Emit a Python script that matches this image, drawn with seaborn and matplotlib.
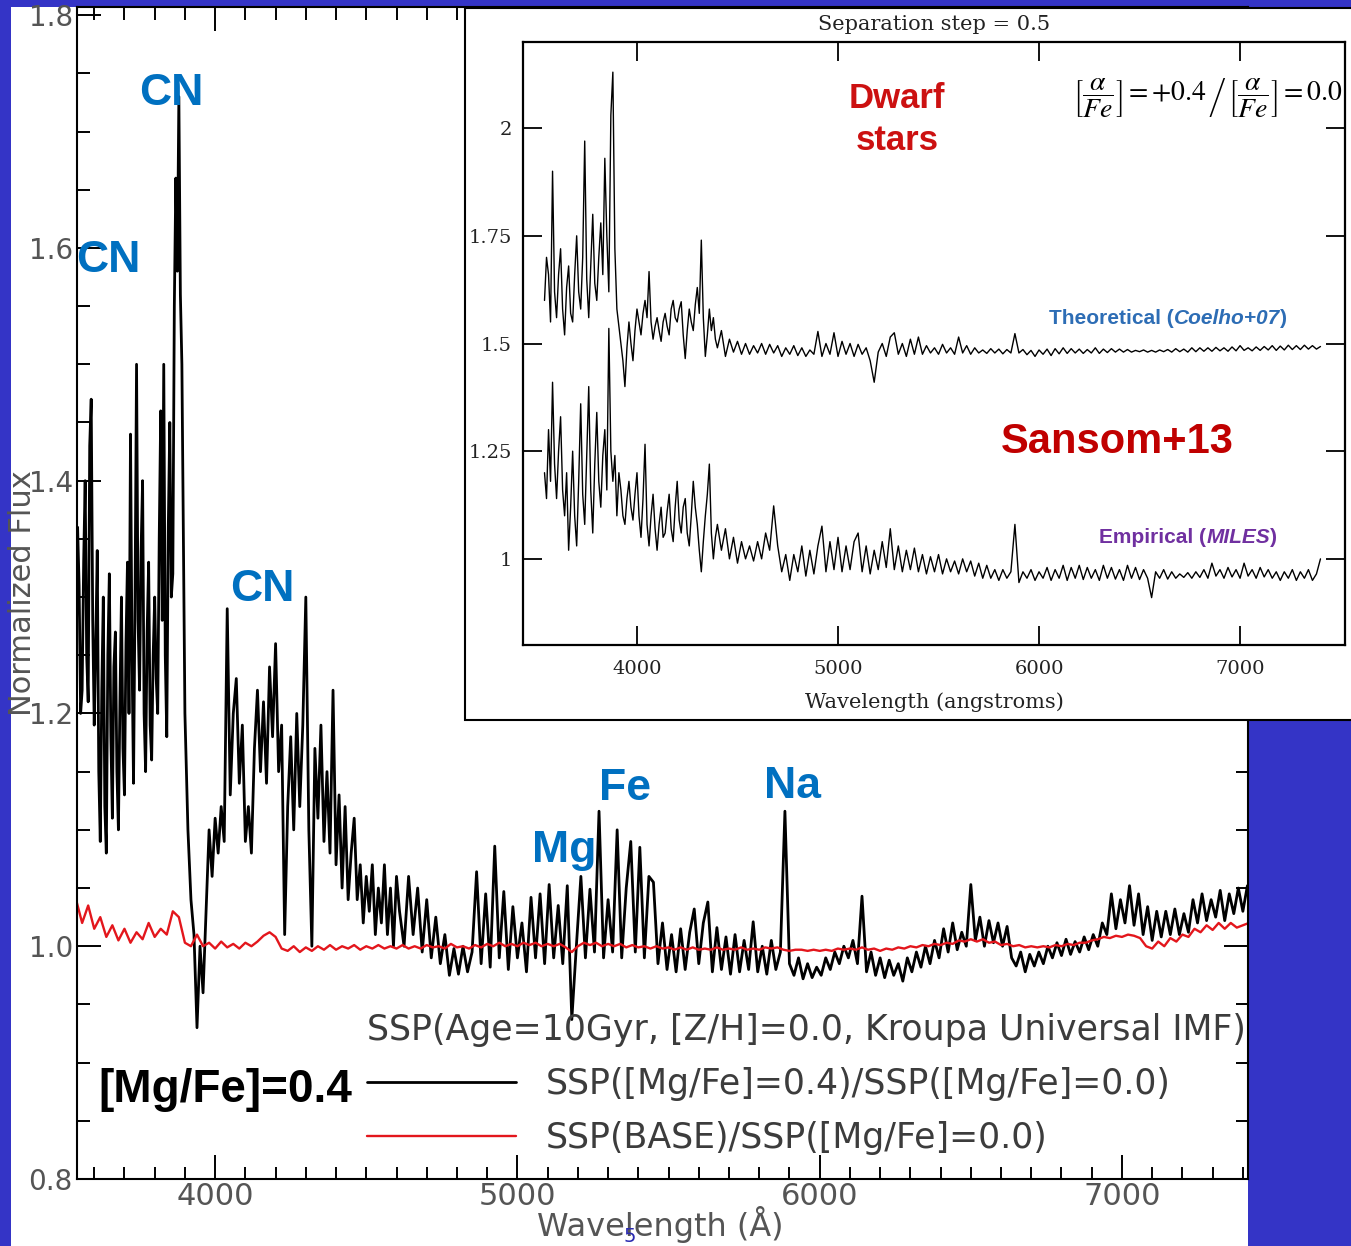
import numpy as np
import pandas as pd
import matplotlib
matplotlib.use("Agg")
import matplotlib.pyplot as plt
import seaborn as sns
from matplotlib.patches import Rectangle
from matplotlib.ticker import MultipleLocator
from matplotlib.offsetbox import TextArea, HPacker, AnnotationBbox

# ---------------- data ----------------
# main panel: SSP([Mg/Fe]=0.4)/SSP([Mg/Fe]=0.0)
# segment 1: 3540-3895 A, 5 A sampling
ratio_wave_1 = np.arange(3540, 3896, 5)
ratio_flux_1 = [
    1.24, 1.36, 1.31, 1.20, 1.22, 1.33, 1.40, 1.25, 1.21, 1.43,
    1.47, 1.28, 1.19, 1.26, 1.34, 1.15, 1.09, 1.22, 1.30, 1.12,
    1.08, 1.25, 1.32, 1.18, 1.11, 1.24, 1.27, 1.15, 1.10, 1.21,
    1.30, 1.17, 1.13, 1.26, 1.33, 1.20, 1.44, 1.25, 1.14, 1.30,
    1.50, 1.28, 1.22, 1.34, 1.40, 1.20, 1.15, 1.27, 1.33, 1.19,
    1.16, 1.25, 1.30, 1.23, 1.20, 1.35, 1.46, 1.28, 1.50, 1.25,
    1.18, 1.36, 1.45, 1.30, 1.32, 1.55, 1.66, 1.58, 1.73, 1.56,
    1.50, 1.35,
]
# segment 2: 3900-4600 A, 10 A sampling
ratio_wave_2 = np.arange(3900, 4601, 10)
ratio_flux_2 = [
    1.20, 1.10, 1.04, 1.01, 0.93, 1.00, 0.96, 1.03, 1.10, 1.06,
    1.11, 1.08, 1.12, 1.09, 1.29, 1.13, 1.20, 1.23, 1.14, 1.19,
    1.09, 1.12, 1.08, 1.17, 1.22, 1.15, 1.21, 1.14, 1.24, 1.18,
    1.26, 1.15, 1.19, 1.01, 1.12, 1.18, 1.10, 1.20, 1.12, 1.19,
    1.30, 1.10, 1.00, 1.17, 1.11, 1.19, 1.09, 1.15, 1.08, 1.22,
    1.07, 1.13, 1.05, 1.12, 1.04, 1.08, 1.11, 1.04, 1.07, 1.02,
    1.06, 1.03, 1.07, 1.01, 1.05, 1.02, 1.07, 1.01, 1.05, 1.00,
    1.06,
]
# segment 3: 4610-7415 A, 15 A sampling
ratio_wave_3 = np.arange(4610, 7416, 15)
ratio_flux_3 = [
    1.03, 1.00, 1.06, 1.01, 1.05, 0.995, 1.04, 0.99, 1.025, 0.985,
    1.01, 0.975, 0.998, 0.976, 1.00, 0.978, 0.995, 1.064, 0.985, 1.045,
    0.982, 1.086, 0.99, 1.047, 0.98, 1.034, 0.99, 1.02, 0.978, 1.042,
    0.99, 1.045, 0.985, 1.053, 0.99, 1.035, 0.985, 1.052, 0.937, 1.00,
    1.06, 0.99, 1.049, 0.995, 1.116, 0.99, 1.04, 0.995, 1.10, 0.99,
    1.05, 1.09, 0.995, 1.085, 0.99, 1.06, 1.055, 0.985, 1.02, 0.98,
    1.01, 0.978, 1.015, 0.98, 1.012, 1.032, 0.985, 1.02, 1.038, 0.978,
    1.016, 0.98, 1.008, 0.976, 1.01, 0.978, 1.005, 0.98, 1.021, 0.978,
    1.0, 0.976, 1.005, 0.98, 0.995, 1.116, 0.985, 0.975, 0.99, 0.972,
    0.985, 0.973, 0.982, 0.975, 0.99, 0.98, 0.995, 0.985, 1.0, 0.99,
    1.005, 0.985, 1.043, 0.978, 0.995, 0.975, 0.99, 0.973, 0.988, 0.975,
    0.985, 0.97, 0.99, 0.978, 0.995, 0.982, 1.0, 0.985, 1.005, 0.99,
    1.015, 0.995, 1.02, 0.997, 1.012, 1.0, 1.053, 1.005, 1.025, 1.0,
    1.022, 1.003, 1.02, 1.0, 1.017, 0.99, 0.983, 0.995, 0.978, 0.993,
    0.983, 0.995, 0.985, 1.0, 0.99, 1.003, 0.992, 1.006, 0.993, 1.004,
    0.995, 1.008, 0.997, 1.01, 1.0, 1.02, 1.01, 1.045, 1.015, 1.04,
    1.02, 1.052, 1.018, 1.045, 1.01, 1.034, 1.005, 1.03, 1.008, 1.03,
    1.01, 1.032, 1.01, 1.028, 1.012, 1.04, 1.02, 1.045, 1.022, 1.04,
    1.025, 1.048, 1.022, 1.045, 1.028, 1.05, 1.03, 1.052,
]
# main panel: SSP(BASE)/SSP([Mg/Fe]=0.0), 20 A sampling
base_wave = np.arange(3540, 7421, 20)
base_flux = [
    1.04, 1.02, 1.035, 1.015, 1.025, 1.008, 1.018, 1.005, 1.015, 1.003,
    1.012, 1.006, 1.02, 1.008, 1.015, 1.01, 1.03, 1.025, 1.003, 1.0,
    1.01, 1.0, 1.003, 0.998, 1.004, 0.999, 1.002, 0.998, 1.003, 1.0,
    1.004, 1.009, 1.012, 1.008, 0.998, 0.996, 1.0, 0.995, 0.999, 0.996,
    1.0, 0.997, 1.001, 0.997, 1.0, 0.998, 1.001, 0.997, 1.0, 0.998,
    1.001, 0.998, 1.0, 0.998, 1.001, 0.998, 1.0, 0.998, 1.001, 0.999,
    1.0, 0.998, 1.002, 0.999, 1.0, 0.998, 1.001, 0.999, 1.002, 1.0,
    1.003, 1.0, 1.002, 1.0, 1.003, 1.001, 1.003, 1.0, 1.002, 1.0,
    1.002, 0.999, 0.995, 1.0, 1.003, 1.001, 1.003, 1.0, 1.002, 1.0,
    1.002, 0.999, 1.001, 0.999, 1.0, 0.998, 1.0, 0.998, 0.999, 0.997,
    0.999, 0.997, 0.999, 0.997, 0.998, 0.997, 0.999, 0.997, 0.998, 0.997,
    0.999, 0.997, 0.998, 0.997, 0.999, 0.998, 0.999, 0.997, 0.996, 0.997,
    0.997, 0.996, 0.997, 0.996, 0.997, 0.996, 0.998, 0.997, 0.998, 0.997,
    0.999, 0.997, 0.998, 0.996, 0.998, 0.997, 0.999, 0.998, 1.0, 0.999,
    1.001, 1.0, 1.002, 1.001, 1.003, 1.002, 1.005, 1.004, 1.006, 1.004,
    1.006, 1.003, 1.004, 1.001, 1.002, 1.0, 1.001, 0.999, 1.0, 0.999,
    1.0, 0.999, 1.001, 1.0, 1.002, 1.001, 1.003, 1.003, 1.005, 1.006,
    1.008, 1.007, 1.009, 1.008, 1.01, 1.009, 1.007, 1.0, 0.998, 1.004,
    1.0, 1.007, 1.004, 1.01, 1.008, 1.015, 1.012, 1.018, 1.014, 1.02,
    1.015, 1.02, 1.016, 1.018, 1.02,
]
# inset: dwarf stars. blue part 10 A sampling, rest 20 A sampling
inset_wave_1 = np.arange(3540, 4391, 10)
inset_wave_2 = np.arange(4400, 7401, 20)
coelho_flux_1 = [
    1.60, 1.70, 1.66, 1.55, 1.90, 1.62, 1.56, 1.66, 1.72, 1.58,
    1.52, 1.63, 1.68, 1.57, 1.55, 1.66, 1.75, 1.62, 1.58, 1.70,
    1.97, 1.65, 1.56, 1.68, 1.80, 1.64, 1.60, 1.70, 1.78, 1.66,
    1.93, 1.75, 1.62, 2.03, 2.13, 1.72, 1.58, 1.54, 1.50, 1.46,
    1.40, 1.49, 1.55, 1.50, 1.46, 1.53, 1.58, 1.55, 1.52, 1.57,
    1.60, 1.56, 1.667, 1.55, 1.51, 1.54, 1.56, 1.53, 1.505, 1.55,
    1.57, 1.54, 1.52, 1.58, 1.60, 1.56, 1.55, 1.58, 1.597, 1.52,
    1.465, 1.53, 1.58, 1.55, 1.53, 1.59, 1.63, 1.57, 1.74, 1.56,
    1.47, 1.52, 1.58, 1.53, 1.56, 1.51,
]
coelho_flux_2 = [
    1.49, 1.53, 1.47, 1.51, 1.48, 1.505, 1.475,
    1.50, 1.475, 1.495, 1.478, 1.50, 1.475, 1.498, 1.478, 1.495, 1.47,
    1.49, 1.475, 1.495, 1.472, 1.49, 1.47, 1.485, 1.475, 1.528, 1.47,
    1.50, 1.475, 1.525, 1.47, 1.505, 1.475, 1.50, 1.47, 1.498, 1.475,
    1.49, 1.46, 1.41, 1.48, 1.50, 1.47, 1.515, 1.525, 1.475, 1.50,
    1.47, 1.51, 1.475, 1.515, 1.475, 1.495, 1.478, 1.49, 1.475, 1.498,
    1.478, 1.49, 1.475, 1.515, 1.478, 1.495, 1.475, 1.49, 1.478, 1.485,
    1.477, 1.488, 1.478, 1.487, 1.476, 1.486, 1.478, 1.523, 1.478, 1.486,
    1.474, 1.484, 1.47, 1.485, 1.475, 1.487, 1.472, 1.488, 1.476, 1.49,
    1.477, 1.488, 1.478, 1.487, 1.477, 1.486, 1.478, 1.49, 1.477, 1.487,
    1.479, 1.488, 1.48, 1.487, 1.48, 1.486, 1.48, 1.484, 1.481, 1.485,
    1.48, 1.484, 1.48, 1.485, 1.481, 1.486, 1.48, 1.488, 1.481, 1.487,
    1.48, 1.49, 1.481, 1.49, 1.482, 1.49, 1.482, 1.491, 1.483, 1.49,
    1.482, 1.492, 1.483, 1.495, 1.484, 1.49, 1.483, 1.492, 1.484, 1.493,
    1.485, 1.495, 1.484, 1.494, 1.485, 1.496, 1.486, 1.495, 1.486, 1.496,
    1.487, 1.495, 1.487, 1.493,
]
miles_flux_1 = [
    1.20, 1.14, 1.30, 1.18, 1.41, 1.22, 1.14, 1.25, 1.33, 1.16,
    1.10, 1.20, 1.02, 1.12, 1.25, 1.10, 1.03, 1.18, 1.36, 1.15,
    1.08, 1.24, 1.40, 1.16, 1.06, 1.22, 1.34, 1.18, 1.12, 1.24,
    1.30, 1.16, 1.535, 1.25, 1.18, 1.24, 1.10, 1.20, 1.16, 1.10,
    1.08, 1.14, 1.18, 1.12, 1.09, 1.15, 1.20, 1.10, 1.05, 1.14,
    1.266, 1.08, 1.03, 1.10, 1.15, 1.07, 1.02, 1.08, 1.12, 1.05,
    1.06, 1.11, 1.15, 1.07, 1.04, 1.12, 1.18, 1.09, 1.06, 1.12,
    1.14, 1.06, 1.03, 1.10, 1.18, 1.12, 1.08, 1.02, 0.97, 1.04,
    1.10, 1.15, 1.22, 1.06, 1.00, 1.05,
]
miles_flux_2 = [
    1.08, 1.02, 1.07, 1.00, 1.05, 0.99, 1.04,
    1.00, 1.03, 0.995, 1.04, 1.00, 1.06, 1.02, 1.123, 1.03, 0.97,
    1.01, 0.95, 1.01, 0.97, 1.03, 0.96, 1.02, 0.965, 1.03, 1.076,
    0.97, 1.04, 0.975, 1.05, 0.97, 1.03, 0.975, 1.04, 1.06, 0.97,
    1.03, 0.965, 1.02, 0.975, 1.04, 0.98, 1.07, 0.975, 1.03, 0.97,
    1.02, 0.975, 1.025, 0.97, 1.01, 0.965, 1.005, 0.97, 1.01, 0.965,
    1.0, 0.97, 0.995, 0.965, 1.0, 0.97, 0.995, 0.96, 0.99, 0.955,
    0.985, 0.955, 0.975, 0.95, 0.975, 0.955, 0.97, 1.08, 0.945, 0.97,
    0.955, 0.975, 0.95, 0.97, 0.955, 0.98, 0.95, 0.975, 0.955, 0.985,
    0.95, 0.98, 0.955, 0.985, 0.952, 0.98, 0.955, 0.975, 0.95, 0.985,
    0.955, 0.98, 0.953, 0.975, 0.95, 0.985, 0.955, 0.98, 0.952, 0.975,
    0.955, 0.91, 0.97, 0.955, 0.975, 0.953, 0.97, 0.955, 0.965, 0.957,
    0.968, 0.955, 0.97, 0.957, 0.975, 0.955, 0.99, 0.96, 0.975, 0.955,
    0.98, 0.958, 0.975, 0.955, 0.99, 0.96, 0.975, 0.955, 0.98, 0.958,
    0.975, 0.955, 0.97, 0.95, 0.97, 0.955, 0.975, 0.95, 0.97, 0.955,
    0.975, 0.95, 0.965, 1.0,
]

main_xticks = [4000, 5000, 6000, 7000]
main_yticks = [0.8, 1.0, 1.2, 1.4, 1.6, 1.8]
main_yticklabels = ["0.8", "1.0", "1.2", "1.4", "1.6", "1.8"]
inset_xticks = [4000, 5000, 6000, 7000]
inset_yticks = [1.0, 1.25, 1.5, 1.75, 2.0]
inset_yticklabels = ["1", "1.25", "1.5", "1.75", "2"]
legend_title = "SSP(Age=10Gyr, [Z/H]=0.0, Kroupa Universal IMF)"
series_labels = ["SSP([Mg/Fe]=0.4)/SSP([Mg/Fe]=0.0)", "SSP(BASE)/SSP([Mg/Fe]=0.0)"]


def pair(waves, fluxes):
    n = min(len(waves), len(fluxes))
    return list(waves[:n]), list(fluxes[:n])


# ---------------- styling ----------------
sns.set_style("ticks")
plt.rcParams["font.family"] = ["DejaVu Sans"]
plt.rcParams["mathtext.fontset"] = "stix"

W, H = 1351, 1246
fig = plt.figure(figsize=(W / 100, H / 100), dpi=100)
fig.patch.set_facecolor("#3434c6")

# white slide panel behind the main plot
fig.add_artist(Rectangle((11 / W, 0), (1248 - 11) / W, (H - 7) / H,
                         transform=fig.transFigure, facecolor="white",
                         edgecolor="none", zorder=-1))

# ---------------- main axes ----------------
ax = fig.add_axes([77 / W, (H - 1179) / H, (1248 - 77) / W, (1179 - 7) / H])
ax.set_facecolor("white")

rw, rf = [], []
for wv, fl in [(ratio_wave_1, ratio_flux_1), (ratio_wave_2, ratio_flux_2),
               (ratio_wave_3, ratio_flux_3)]:
    a, b = pair(wv, fl)
    rw += a
    rf += b
ratio_df = pd.DataFrame({"wave": rw, "flux": rf})
bw, bf = pair(base_wave, base_flux)
base_df = pd.DataFrame({"wave": bw, "flux": bf})

sns.lineplot(data=ratio_df, x="wave", y="flux", ax=ax, color="black",
             linewidth=2.0, estimator=None, sort=False)
sns.lineplot(data=base_df, x="wave", y="flux", ax=ax, color="#e3161c",
             linewidth=1.7, estimator=None, sort=False)

ax.set_xlim(3543, 7417)
ax.set_ylim(0.8, 1.807)
ax.set_xticks(main_xticks)
ax.set_xticklabels([str(t) for t in main_xticks])
ax.xaxis.set_minor_locator(MultipleLocator(100))
ax.set_yticks(main_yticks)
ax.set_yticklabels(main_yticklabels)
ax.yaxis.set_minor_locator(MultipleLocator(0.05))
ax.tick_params(which="both", direction="in", top=True, right=True,
               width=1.4, color="black")
ax.tick_params(which="major", length=17)
ax.tick_params(which="minor", length=9)
ax.tick_params(axis="x", labelsize=22, pad=2, labelcolor="#555555")
ax.tick_params(axis="y", labelsize=20, pad=3, labelcolor="#555555")
for s in ax.spines.values():
    s.set_linewidth(1.5)
    s.set_color("black")

ax.set_ylabel("Normalized Flux", fontsize=22, color="#555555")
ax.yaxis.set_label_coords(-0.034, 0.5)
ax.set_xlabel("Wavelength (Å)", fontsize=23, color="#555555")
ax.xaxis.set_label_coords(0.498, -0.023)

leg = ax.legend(handles=ax.lines[:2], labels=series_labels, title=legend_title,
                loc="upper left", bbox_to_anchor=(0.2477, 0.142), frameon=False,
                fontsize=25, title_fontsize=25, handlelength=4.3,
                handletextpad=0.86, labelspacing=0.58, borderpad=0,
                borderaxespad=0, alignment="left")
for t in leg.get_texts():
    t.set_color("#3c3c3c")
leg.get_title().set_color("#3c3c3c")

blue = "#0070c0"
sans = ["Liberation Sans", "DejaVu Sans"]
for label, (fx, fy) in zip(["CN", "CN", "CN", "Mg", "Fe", "Na"],
                           [(0.0803, 0.9266), (0.0265, 0.7833), (0.158, 0.5026),
                            (0.416, 0.2799), (0.468, 0.3328), (0.6106, 0.3345)]):
    ax.text(fx, fy, label, transform=ax.transAxes, ha="center", va="center",
            color=blue, fontsize=32, fontweight="bold", family=sans)

ax.text(0.1264, 0.0759, "[Mg/Fe]=0.4", transform=ax.transAxes, ha="center",
        va="center", color="black", fontsize=33, fontweight="bold", family=sans)

# ---------------- inset ----------------
fig.add_artist(Rectangle((465 / W, (H - 720) / H), (W - 465) / W + 0.01, (720 - 8) / H,
                         transform=fig.transFigure, facecolor="white",
                         edgecolor="black", linewidth=1.5, zorder=1))
axi = fig.add_axes([523 / W, (H - 645) / H, 822 / W, 603 / H])
axi.set_zorder(2)
axi.set_facecolor("white")

cw1, cf1 = pair(inset_wave_1, coelho_flux_1)
cw2, cf2 = pair(inset_wave_2, coelho_flux_2)
mw1, mf1 = pair(inset_wave_1, miles_flux_1)
mw2, mf2 = pair(inset_wave_2, miles_flux_2)
sns.lineplot(x=cw1 + cw2, y=cf1 + cf2, ax=axi, color="black",
             linewidth=1.0, estimator=None, sort=False)
sns.lineplot(x=mw1 + mw2, y=mf1 + mf2, ax=axi, color="black",
             linewidth=1.0, estimator=None, sort=False)

serif = ["DejaVu Serif"]
axi.set_xlim(3433, 7522)
axi.set_ylim(0.8, 2.2)
axi.set_xticks(inset_xticks)
axi.set_xticklabels([str(t) for t in inset_xticks], family=serif, fontsize=14)
axi.set_yticks(inset_yticks)
axi.set_yticklabels(inset_yticklabels, family=serif, fontsize=14)
axi.tick_params(direction="in", length=14, width=1.3, top=True, right=True,
                color="black", labelcolor="#222222")
axi.tick_params(axis="x", pad=11)
axi.tick_params(axis="y", pad=8)
for s in axi.spines.values():
    s.set_linewidth(1.6)
    s.set_color("black")
axi.set_xlabel("Wavelength (angstroms)", family=serif, fontsize=15, color="#222222")
axi.xaxis.set_label_coords(0.5, -0.079)
axi.set_ylabel("")
axi.set_title("Separation step = 0.5", family=serif, fontsize=15, pad=9,
              color="#222222")

axi.text(0.455, 0.872, "Dwarf\nstars", transform=axi.transAxes, ha="center",
         va="center", color="#cc1111", fontsize=25, fontweight="bold",
         family=sans, linespacing=1.35)
axi.text(0.833, 0.908,
         r"$\left[\dfrac{\alpha}{Fe}\right]=+0.4\,\left/\,\left[\dfrac{\alpha}{Fe}\right]\right.=0.0$",
         transform=axi.transAxes, ha="center", va="center", fontsize=20,
         color="black")
axi.text(0.723, 0.337, "Sansom+13", transform=axi.transAxes, ha="center",
         va="center", color="#c00000", fontsize=30, fontweight="bold", family=sans)


def mixed_label(axis, parts, xy, color, size):
    boxes = [TextArea(t, textprops=dict(color=color, fontsize=size,
                                        fontweight="bold", fontstyle=st,
                                        family=sans))
             for t, st in parts]
    pack = HPacker(children=boxes, align="baseline", pad=0, sep=0)
    ab = AnnotationBbox(pack, xy, xycoords="axes fraction", frameon=False,
                        box_alignment=(0.5, 0.5))
    axis.add_artist(ab)


mixed_label(axi, [("Theoretical (", "normal"), ("Coelho+07", "italic"), (")", "normal")],
            (0.785, 0.542), "#2d6db5", 15)
mixed_label(axi, [("Empirical (", "normal"), ("MILES", "italic"), (")", "normal")],
            (0.809, 0.179), "#7030a0", 15)

fig.text(630 / W, 1 - 1236 / H, "5", color="#2a2ab0", fontsize=14,
         ha="center", va="center", zorder=5)

fig.savefig("out.png", dpi=100, facecolor=fig.get_facecolor())
